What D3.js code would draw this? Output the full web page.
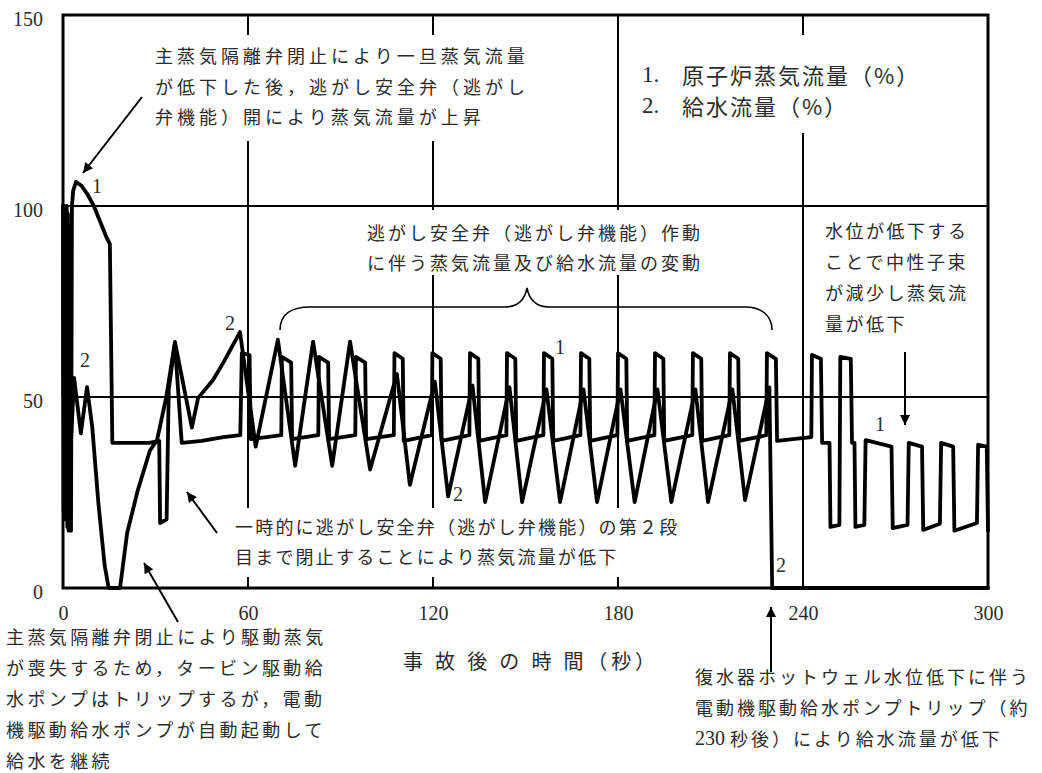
<!DOCTYPE html>
<html>
<head>
<meta charset="utf-8">
<script src="https://cdnjs.cloudflare.com/ajax/libs/d3/7.8.5/d3.min.js"></script>
<style>
  body { margin: 0; background: #fff; }
  svg { display: block; }
  .jp { font-family: "Noto Sans CJK JP", sans-serif; fill: #2b2b2b; }
  .num { font-family: "Liberation Serif", "DejaVu Serif", serif; fill: #2b2b2b; }
  .axis text { font-family: "Liberation Serif", serif; font-size: 20px; fill: #2b2b2b; }
</style>
</head>
<body>
<svg id="chart" width="1042" height="773"></svg>
<script>
// tick values and grid positions (seconds / percent)
var xTicks = [0, 60, 120, 180, 240, 300];
var yTicks = [0, 50, 100, 150];
var xGrid = [60, 120, 180, 240];
var yGrid = [50, 100];

// 1. 原子炉蒸気流量 (%) : [time s, value]
var steamFlow = [
  [0, 100], [0.2, 20], [0.4, 100], [0.6, 18], [0.8, 99], [1.0, 25], [1.2, 100], [1.4, 16],
  [1.6, 98], [1.8, 15], [2.0, 95], [2.2, 15], [2.6, 15], [2.9, 100],
  [3.3, 104], [4.2, 106.3], [6, 105.3], [8, 103], [10, 100], [12, 96], [14, 92], [15.2, 90],
  [16, 38], [22, 38], [28, 38], [31.2, 38.5], [31.5, 17], [33.6, 18], [34.3, 52], [36.3, 64],
  [38.5, 38], [45, 38.5], [52, 39.5], [57.5, 40],
  [58, 61.5], [60.5, 61], [60.9, 39], [66, 39.5], [70.8, 40],
  [71, 60.5], [74, 59], [74.3, 39], [82.8, 40],
  [83, 60.5], [86, 59], [86.3, 39], [94.8, 40],
  [95, 60.5], [98, 59], [98.3, 39], [107.3, 40],
  [107.5, 61.5], [110.2, 60], [110.5, 38.5], [119.6, 40],
  [119.8, 61.5], [122.5, 60], [122.8, 38.5], [131.8, 40],
  [132, 61.5], [134.7, 60], [135, 38.5], [143.8, 40],
  [144, 61.5], [146.7, 60], [147, 38.5], [155.8, 40],
  [156, 61.5], [158.7, 60], [159, 38.5], [167.8, 40],
  [168, 61.5], [170.7, 60], [171, 38.5], [179.8, 40],
  [180, 61.5], [182.7, 60], [183, 38.5], [191.8, 40],
  [192, 61.5], [194.7, 60], [195, 38.5], [204.1, 40],
  [204.3, 61.5], [207, 60], [207.3, 38.5], [216.1, 40],
  [216.3, 61.5], [219, 60], [219.3, 38.5], [228.1, 40],
  [228.3, 61.5], [231.2, 60], [231.6, 38.5], [242.7, 39.5],
  [242.9, 61], [245.8, 60], [246.2, 38], [248.6, 38], [248.9, 16], [251.8, 16.5],
  [252.1, 60.5], [255.5, 60], [255.9, 38], [256.7, 38], [257, 16], [259.9, 16.5],
  [260.3, 38.7], [268.7, 37], [269.1, 15.7], [273.9, 16.5],
  [274.3, 38], [278.6, 37], [279, 15.2], [284.4, 16.8],
  [284.8, 38], [288.7, 37], [289.1, 15], [296.4, 17],
  [296.8, 37.5], [299.6, 37], [300, 15]
];

// 2. 給水流量 (%) : [time s, value]
var feedFlow = [
  [0, 100], [0.15, 50], [0.3, 98], [0.5, 30], [0.7, 96], [0.9, 22], [1.1, 90], [1.3, 25],
  [1.5, 85], [1.7, 20], [2.0, 60], [2.4, 35],
  [3.6, 55], [5.8, 40.5], [7.8, 52.6], [9.5, 42], [11.5, 22], [13.5, 6], [14.8, 0], [18.5, 0],
  [20.8, 14.4], [24.3, 25.7], [28.2, 36], [30.5, 38.7], [33.5, 50], [36.3, 64.4], [41.8, 42],
  [43.8, 49.7], [48.7, 54.5], [52, 59], [57.4, 67],
  [62.5, 37], [69.7, 65], [75.3, 32], [81.1, 64.5], [87.3, 32], [93.1, 64.5], [99.6, 31],
  [108.3, 56], [112.5, 27], [120.6, 54], [124.9, 24], [132.8, 53], [136.9, 22.5],
  [144.8, 52.5], [148.9, 22.5], [156.8, 52], [161.2, 22.5], [168.8, 52], [173.2, 22.5],
  [180.8, 52], [185.4, 22.5], [192.8, 52], [197.3, 22.5], [205.1, 52], [209.2, 22.5],
  [217.1, 52], [221.2, 23], [229.1, 52.5], [230, 0], [300, 0]
];

// curve numbers written next to the lines
var curveLabels = [
  {text: "1", t: 11, v: 105.2},
  {text: "2", t: 7.1, v: 59.7},
  {text: "2", t: 54.2, v: 69.4},
  {text: "1", t: 161.2, v: 63.1},
  {text: "2", t: 128.1, v: 24.6},
  {text: "2", t: 232.9, v: 6},
  {text: "1", t: 265, v: 42.9}
];

var svg = d3.select("#chart");
var margin = {top: 15, right: 54, bottom: 185, left: 63};
var width = +svg.attr("width") - margin.left - margin.right;
var height = +svg.attr("height") - margin.top - margin.bottom;

var x = d3.scaleLinear().domain([0, 300]).range([0, width]);
var y = d3.scaleLinear().domain([0, 150]).range([height, 0]);

var defs = svg.append("defs");
defs.append("clipPath").attr("id", "plotclip")
  .append("rect").attr("x", -2).attr("y", -2).attr("width", width + 4).attr("height", height + 4);
defs.append("marker")
  .attr("id", "head")
  .attr("viewBox", "0 0 10 10")
  .attr("refX", 10).attr("refY", 5)
  .attr("markerWidth", 15).attr("markerHeight", 10)
  .attr("markerUnits", "userSpaceOnUse")
  .attr("orient", "auto")
  .append("path").attr("d", "M0,0L10,5L0,10z").attr("fill", "#000");

var g = svg.append("g")
  .attr("transform", "translate(" + margin.left + "," + margin.top + ")");

// grid lines
g.selectAll(".hgrid").data(yGrid).enter().append("line")
  .attr("x1", 0).attr("x2", width)
  .attr("y1", function(d) { return y(d); }).attr("y2", function(d) { return y(d); })
  .attr("stroke", "#000").attr("stroke-width", 2);
g.selectAll(".vgrid").data(xGrid).enter().append("line")
  .attr("x1", function(d) { return x(d); }).attr("x2", function(d) { return x(d); })
  .attr("y1", 0).attr("y2", height)
  .attr("stroke", "#000").attr("stroke-width", 2);

// white boxes behind the annotation texts (break the grid lines)
var maskBoxes = [
  [150, 35, 390, 106],
  [630, 35, 300, 98],
  [360, 210, 352, 65],
  [228, 508, 462, 69]
];
svg.append("g").selectAll("rect").data(maskBoxes).enter().append("rect")
  .attr("x", function(d) { return d[0]; }).attr("y", function(d) { return d[1]; })
  .attr("width", function(d) { return d[2]; }).attr("height", function(d) { return d[3]; })
  .attr("fill", "#fff");

var plot = svg.append("g")
  .attr("transform", "translate(" + margin.left + "," + margin.top + ")");

var line = d3.line()
  .x(function(d) { return x(d[0]); })
  .y(function(d) { return y(d[1]); });

var lines = plot.append("g").attr("clip-path", "url(#plotclip)");
[feedFlow, steamFlow].forEach(function(s) {
  lines.append("path")
    .datum(s)
    .attr("d", line)
    .attr("fill", "none")
    .attr("stroke", "#000")
    .attr("stroke-width", 3.8)
    .attr("stroke-linejoin", "round")
    .attr("stroke-linecap", "round");
});

// frame
plot.append("rect")
  .attr("width", width).attr("height", height)
  .attr("fill", "none").attr("stroke", "#000").attr("stroke-width", 3);

// axes (labels only)
var xAxis = plot.append("g")
  .attr("class", "axis")
  .attr("transform", "translate(0," + height + ")")
  .call(d3.axisBottom(x).tickValues(xTicks).tickSize(0).tickPadding(18));
xAxis.select(".domain").remove();

var yAxis = plot.append("g")
  .attr("class", "axis")
  .call(d3.axisLeft(y).tickValues(yTicks).tickSize(0).tickPadding(20));
yAxis.select(".domain").remove();
yAxis.selectAll("text").attr("dy", "0.5em");

// curve numbers
plot.selectAll(".clabel").data(curveLabels).enter().append("text")
  .attr("class", "num")
  .attr("x", function(d) { return x(d.t); })
  .attr("y", function(d) { return y(d.v); })
  .attr("text-anchor", "middle")
  .attr("dominant-baseline", "central")
  .style("font-size", "20px")
  .text(function(d) { return d.text; });

// x axis title
svg.append("text")
  .attr("class", "jp")
  .attr("x", 403).attr("y", 660)
  .attr("dominant-baseline", "central")
  .attr("textLength", 252).attr("lengthAdjust", "spacing")
  .style("font-size", "20px")
  .text("事 故 後 の 時 間（秒）");

// legend
var legend = [
  {n: "1.", label: "原子炉蒸気流量（%）", y: 74},
  {n: "2.", label: "給水流量（%）", y: 105}
];
legend.forEach(function(d) {
  var t = svg.append("text").attr("y", d.y).attr("dominant-baseline", "central");
  t.append("tspan").attr("class", "num").attr("x", 642).style("font-size", "23px").text(d.n);
  t.append("tspan").attr("class", "jp").attr("x", 682)
    .style("font-size", "22px").style("letter-spacing", "2px").text(d.label);
});

// annotations
var notes = [
  {x: 155, y: 55, dy: 30.5, ls: 4, lines: [
    "主蒸気隔離弁閉止により一旦蒸気流量",
    "が低下した後，逃がし安全弁（逃がし",
    "弁機能）開により蒸気流量が上昇"]},
  {x: 367, y: 232, dy: 30, ls: 3, lines: [
    "逃がし安全弁（逃がし弁機能）作動",
    "に伴う蒸気流量及び給水流量の変動"]},
  {x: 825, y: 230, dy: 31, ls: 2.5, lines: [
    "水位が低下する",
    "ことで中性子束",
    "が減少し蒸気流",
    "量が低下"]},
  {x: 235, y: 526, dy: 30, ls: 2.2, lines: [
    "一時的に逃がし安全弁（逃がし弁機能）の第２段",
    "目まで閉止することにより蒸気流量が低下"]},
  {x: 6, y: 636, dy: 31, ls: 3.4, lines: [
    "主蒸気隔離弁閉止により駆動蒸気",
    "が喪失するため，タービン駆動給",
    "水ポンプはトリップするが，電動",
    "機駆動給水ポンプが自動起動して",
    "給水を継続"]},
  {x: 695, y: 676, dy: 31, ls: 3, lines: [
    "復水器ホットウェル水位低下に伴う",
    "電動機駆動給水ポンプトリップ（約",
    "230 秒後）により給水流量が低下"]}
];
notes.forEach(function(n) {
  n.lines.forEach(function(s, i) {
    var t = svg.append("text")
      .attr("x", n.x).attr("y", n.y + i * n.dy)
      .attr("dominant-baseline", "central")
      .style("font-size", "18px");
    s.split(/(\d+ )/).forEach(function(part) {
      if (!part) return;
      var isNum = /^\d+ $/.test(part);
      t.append("tspan")
        .attr("class", isNum ? "num" : "jp")
        .style("font-size", isNum ? "20px" : "18px")
        .style("letter-spacing", isNum ? "0px" : n.ls + "px")
        .text(part);
    });
  });
});

// arrows
var arrows = [
  [142, 97, 83, 173],
  [217, 533, 187, 492],
  [178, 622, 144, 563],
  [771, 672, 771, 607],
  [905, 352, 905, 425]
];
svg.append("g").selectAll("line").data(arrows).enter().append("line")
  .attr("x1", function(d) { return d[0]; }).attr("y1", function(d) { return d[1]; })
  .attr("x2", function(d) { return d[2]; }).attr("y2", function(d) { return d[3]; })
  .attr("stroke", "#000").attr("stroke-width", 2)
  .attr("marker-end", "url(#head)");

// brace over the oscillating section
svg.append("path")
  .attr("d", "M280,330 C280,314 292,307 310,307 L505,307 C518,307 525,299 527,288 " +
             "C529,299 536,307 549,307 L745,307 C762,307 772,316 772,330")
  .attr("fill", "none").attr("stroke", "#000").attr("stroke-width", 1.6);
</script>
</body>
</html>
